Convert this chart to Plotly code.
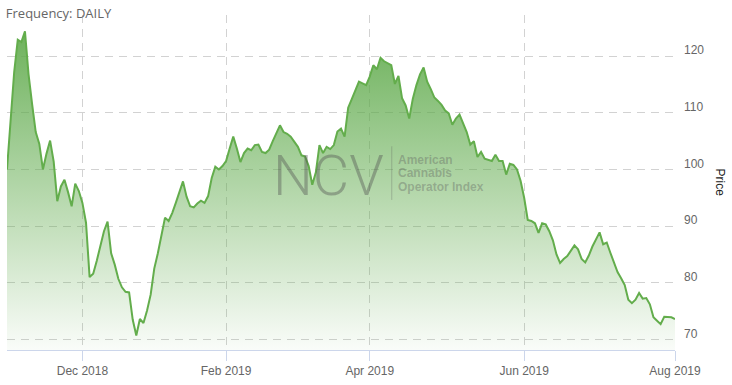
import plotly.graph_objects as go
import pandas as pd

# ---- data ----
holidays = ["2018-11-22", "2018-12-05", "2018-12-25", "2019-01-01", "2019-01-21",
            "2019-02-18", "2019-04-19", "2019-05-27", "2019-07-04"]
dates = pd.bdate_range("2018-11-01", "2019-08-01", freq="C",
                       holidays=holidays).strftime("%Y-%m-%d").tolist()

prices = [
    100.0, 108.9, 117.2, 122.9, 122.5, 124.4, 116.8, 111.5, 106.6, 104.5,
    100.0, 102.8, 105.1, 101.4, 94.4, 97.0, 98.2, 96.0, 93.5, 97.5,
    96.2, 94.1, 90.6, 81.0, 81.6, 83.9, 86.7, 89.1, 90.8, 85.2,
    83.2, 80.7, 79.2, 78.4, 78.3, 73.5, 70.7, 73.6, 72.9, 75.1,
    77.9, 82.5, 85.2, 88.3, 91.5, 90.9, 92.3, 94.1, 96.2, 97.9,
    95.2, 93.5, 93.3, 94.0, 94.5, 94.1, 95.3, 98.5, 100.5, 100.0,
    100.6, 101.5, 103.7, 105.8, 103.7, 101.3, 102.9, 103.7, 103.4, 104.3,
    104.4, 103.1, 102.9, 103.5, 105.0, 106.5, 107.8, 106.6, 106.3, 105.8,
    105.0, 104.0, 102.5, 102.3, 100.6, 97.3, 99.5, 104.3, 102.9, 104.0,
    103.6, 104.3, 106.7, 107.2, 105.8, 110.9, 112.4, 114.1, 115.5, 115.2,
    114.9, 116.4, 118.4, 117.7, 119.7, 119.1, 118.8, 118.4, 115.1, 116.5,
    112.6, 111.3, 109.0, 112.5, 114.9, 116.8, 118.0, 115.5, 114.2, 112.7,
    112.1, 111.4, 110.4, 109.9, 107.9, 109.0, 109.7, 108.2, 106.6, 104.4,
    105.0, 102.2, 103.1, 101.9, 101.7, 101.5, 102.6, 101.5, 101.5, 99.1,
    101.0, 100.8, 100.0, 98.0, 95.0, 91.1, 90.9, 90.5, 88.8, 90.5,
    90.3, 89.1, 87.5, 85.0, 83.5, 84.2, 84.7, 85.7, 86.6, 85.9,
    84.2, 83.6, 84.8, 86.4, 87.8, 88.9, 86.8, 87.1, 85.3, 83.6,
    81.9, 80.8, 79.6, 77.0, 76.4, 77.0, 78.2, 77.2, 77.3, 76.2,
    73.9, 73.3, 72.7, 74.0, 73.9, 73.9, 73.6,
]

n = min(len(dates), len(prices))
dates = dates[:n]
prices = prices[:n]

tick_dates = ["2018-12-03", "2019-02-01", "2019-04-01", "2019-06-03", "2019-08-01"]
tick_labels = ["Dec 2018", "Feb 2019", "Apr 2019", "Jun 2019", "Aug 2019"]
y_ticks = [70, 80, 90, 100, 110, 120]

# ---- figure ----
fig = go.Figure()
fig.add_trace(go.Scatter(
    x=dates, y=prices, mode="lines",
    line=dict(color="#63ad4c", width=2),
    fill="tozeroy",
    fillgradient=dict(type="vertical", start=68, stop=125,
                      colorscale=[[0, "rgba(95,170,75,0.02)"],
                                  [1, "rgba(95,170,75,0.92)"]]),
    hoverinfo="skip",
))

grid = "#d2d2d2"
fig.update_xaxes(
    type="category", range=[0, n - 1],
    tickmode="array", tickvals=tick_dates, ticktext=tick_labels,
    showgrid=True, gridcolor=grid, griddash="8px,6px", gridwidth=1,
    ticks="outside", ticklen=10, tickcolor="#ccd6eb", tickwidth=1,
    showline=True, linecolor="#ccd6eb", linewidth=1,
    tickfont=dict(family="Liberation Sans, Arial", size=12, color="#666666"),
    zeroline=False,
)
fig.update_yaxes(
    side="right", range=[68.13, 127.27],
    tickmode="array", tickvals=y_ticks,
    showgrid=True, gridcolor=grid, griddash="8px,6px", gridwidth=1,
    ticks="", ticklabelshift=-6, ticklabelstandoff=8,
    tickfont=dict(family="Liberation Sans, Arial", size=12, color="#666666"),
    zeroline=False, showline=False,
)

wm = "rgba(80,80,80,0.40)"
wm2 = "rgba(90,90,90,0.36)"
annotations = [
    dict(text="Price", xref="paper", yref="paper", x=1.0674, y=0.5,
         xanchor="center", yanchor="middle",
         textangle=90, showarrow=False,
         font=dict(family="Liberation Sans, Arial", size=12, color="#222222")),
    dict(text="NCV", xref="paper", yref="paper", x=0.482, y=0.52,
         xanchor="center", yanchor="middle", showarrow=False,
         font=dict(family="Roboto", size=56, color=wm, weight=300)),
    dict(text="American", xref="paper", yref="paper", x=0.582, y=0.566,
         xanchor="left", yanchor="middle", showarrow=False,
         font=dict(family="Liberation Sans, Arial", size=12, color=wm2, weight="bold")),
    dict(text="Cannabis", xref="paper", yref="paper", x=0.582, y=0.528,
         xanchor="left", yanchor="middle", showarrow=False,
         font=dict(family="Liberation Sans, Arial", size=12, color=wm2, weight="bold")),
    dict(text="Operator Index", xref="paper", yref="paper", x=0.582, y=0.488,
         xanchor="left", yanchor="middle", showarrow=False,
         font=dict(family="Liberation Sans, Arial", size=12, color=wm2, weight="bold")),
]

fig.update_layout(
    width=732, height=385,
    margin=dict(l=7, r=57, t=15, b=31),
    paper_bgcolor="white", plot_bgcolor="white",
    showlegend=False,
    title=dict(text="Frequency: DAILY", xref="container", yref="container",
               x=0.008, y=0.966, xanchor="left", yanchor="middle",
               font=dict(family="Open Sans", size=13, color="#666666")),
    annotations=annotations,
    shapes=[dict(type="line", xref="paper", yref="paper",
                 x0=0.576, x1=0.576, y0=0.448, y1=0.608,
                 line=dict(color="rgba(90,90,90,0.3)", width=1))],
)

fig.write_html("out.html", config={"displayModeBar": False})
